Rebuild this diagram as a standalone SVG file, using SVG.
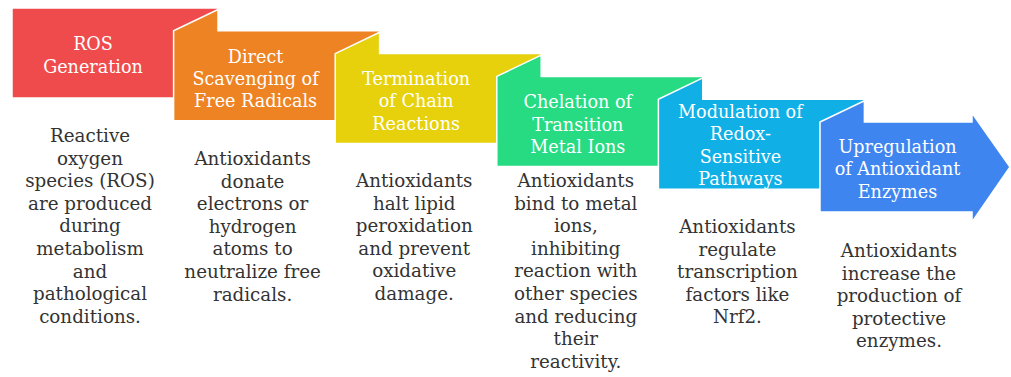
<svg xmlns="http://www.w3.org/2000/svg" width="1011" height="377" viewBox="0 0 1011 377">
<style>
.box{stroke:#ffffff;stroke-width:1.5;stroke-linejoin:miter}
.hd{font-family:"DejaVu Serif","Liberation Serif",serif;font-size:17.6px;fill:#ffffff;text-anchor:middle}
.bd{font-family:"DejaVu Serif","Liberation Serif",serif;font-size:18.3px;fill:#333333;text-anchor:middle}
</style>
<rect width="1011" height="377" fill="#ffffff"/>
<g id="connectors"/>
<g id="n1">
<polygon class="box" fill="#EF4B4C" points="12,8 218,8 218,98 12,98"/>
<text class="hd"><tspan x="93" y="50">ROS</tspan><tspan x="93" y="73">Generation</tspan></text>
<text class="bd"><tspan x="90" y="142">Reactive</tspan><tspan x="90" y="164.6">oxygen</tspan><tspan x="90" y="187.2">species (ROS)</tspan><tspan x="90" y="209.8">are produced</tspan><tspan x="90" y="232.4">during</tspan><tspan x="90" y="255">metabolism</tspan><tspan x="90" y="277.6">and</tspan><tspan x="90" y="300.2">pathological</tspan><tspan x="90" y="322.8">conditions.</tspan></text>
</g>
<g id="n2">
<polygon class="box" fill="#EE8323" points="173.6,30.8 218,9.5 218,30.8 379.6,30.8 379.6,120.8 173.6,120.8"/>
<text class="hd"><tspan x="255.6" y="63">Direct</tspan><tspan x="255.6" y="85">Scavenging of</tspan><tspan x="255.6" y="107">Free Radicals</tspan></text>
<text class="bd"><tspan x="252.6" y="165">Antioxidants</tspan><tspan x="252.6" y="187.6">donate</tspan><tspan x="252.6" y="210.2">electrons or</tspan><tspan x="252.6" y="232.8">hydrogen</tspan><tspan x="252.6" y="255.4">atoms to</tspan><tspan x="252.6" y="278">neutralize free</tspan><tspan x="252.6" y="300.6">radicals.</tspan></text>
</g>
<g id="n3">
<polygon class="box" fill="#E6D10C" points="335.2,53.6 379.6,32.3 379.6,53.6 541.2,53.6 541.2,143.6 335.2,143.6"/>
<text class="hd"><tspan x="416.2" y="85">Termination</tspan><tspan x="416.2" y="107">of Chain</tspan><tspan x="416.2" y="130">Reactions</tspan></text>
<text class="bd"><tspan x="414.2" y="187">Antioxidants</tspan><tspan x="414.2" y="209.6">halt lipid</tspan><tspan x="414.2" y="232.2">peroxidation</tspan><tspan x="414.2" y="254.8">and prevent</tspan><tspan x="414.2" y="277.4">oxidative</tspan><tspan x="414.2" y="300">damage.</tspan></text>
</g>
<g id="n4">
<polygon class="box" fill="#26DB82" points="496.8,76.4 541.2,55.1 541.2,76.4 702.8,76.4 702.8,166.4 496.8,166.4"/>
<text class="hd"><tspan x="577.8" y="108">Chelation of</tspan><tspan x="577.8" y="131">Transition</tspan><tspan x="577.8" y="153">Metal Ions</tspan></text>
<text class="bd"><tspan x="575.8" y="187">Antioxidants</tspan><tspan x="575.8" y="209.6">bind to metal</tspan><tspan x="575.8" y="232.2">ions,</tspan><tspan x="575.8" y="254.8">inhibiting</tspan><tspan x="575.8" y="277.4">reaction with</tspan><tspan x="575.8" y="300">other species</tspan><tspan x="575.8" y="322.6">and reducing</tspan><tspan x="575.8" y="345.2">their</tspan><tspan x="575.8" y="367.8">reactivity.</tspan></text>
</g>
<g id="n5">
<polygon class="box" fill="#10AFE6" points="658.4,99.2 702.8,77.9 702.8,99.2 864.4,99.2 864.4,189.2 658.4,189.2"/>
<text class="hd"><tspan x="740.4" y="118">Modulation of</tspan><tspan x="740.4" y="140">Redox-</tspan><tspan x="740.4" y="163">Sensitive</tspan><tspan x="740.4" y="185">Pathways</tspan></text>
<text class="bd"><tspan x="737.4" y="233">Antioxidants</tspan><tspan x="737.4" y="255.6">regulate</tspan><tspan x="737.4" y="278.2">transcription</tspan><tspan x="737.4" y="300.8">factors like</tspan><tspan x="737.4" y="323.4">Nrf2.</tspan></text>
</g>
<g id="n6">
<polygon class="box" fill="#3F85F0" points="820,122 864.4,100.7 864.4,122 972,122 972,113 1010,167 972,222 972,212 820,212"/>
<text class="hd"><tspan x="897.5" y="153">Upregulation</tspan><tspan x="897.5" y="175">of Antioxidant</tspan><tspan x="897.5" y="198">Enzymes</tspan></text>
<text class="bd"><tspan x="899" y="257">Antioxidants</tspan><tspan x="899" y="279.6">increase the</tspan><tspan x="899" y="302.2">production of</tspan><tspan x="899" y="324.8">protective</tspan><tspan x="899" y="347.4">enzymes.</tspan></text>
</g>
</svg>
